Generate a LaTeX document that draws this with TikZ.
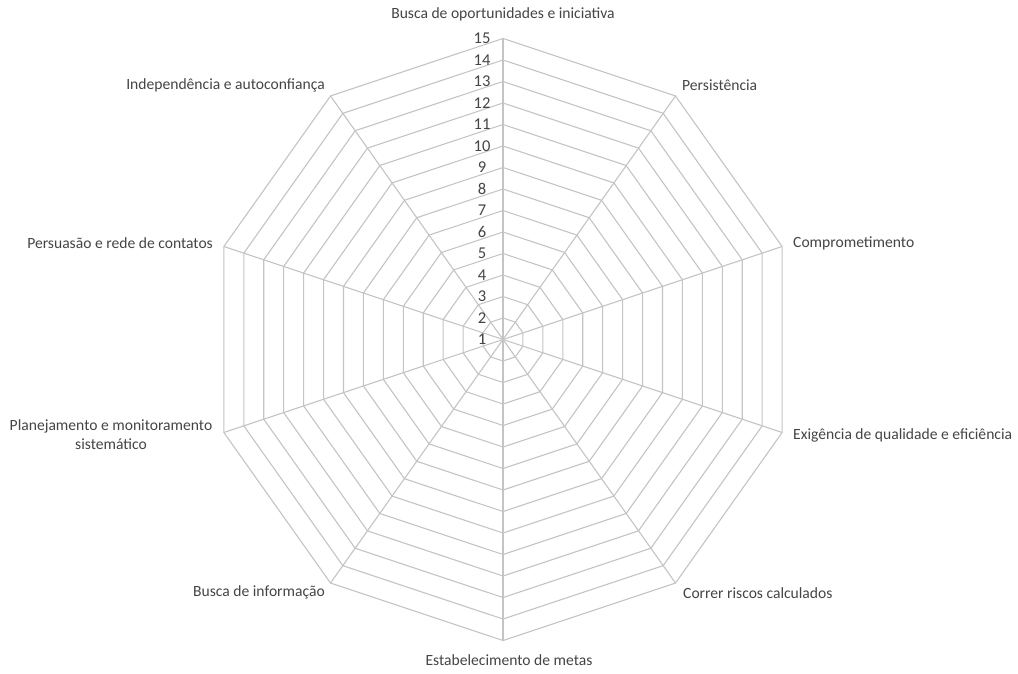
\documentclass[tikz,border=0pt]{standalone}
\usepackage{fontspec}
\setmainfont{Carlito}
\definecolor{gridgray}{HTML}{C4C4C4}
\definecolor{lblgray}{HTML}{454545}
\begin{document}
\begin{tikzpicture}[x=1pt,y=-1pt,
  grid/.style={draw=gridgray,line width=1.1pt,line join=miter},
  lbl/.style={text=lblgray,font=\fontsize{15.6}{19}\selectfont,inner sep=0pt},
  num/.style={text=lblgray,font=\fontsize{16.5}{19}\selectfont,inner sep=0pt}]
\useasboundingbox (0,0) rectangle (1018,674);
\fill[white] (0,0) rectangle (1018,674);
\coordinate (c) at (503,339.5);
\foreach \k in {1,...,14}{
  \pgfmathsetmacro{\r}{21.5*\k}
  \draw[grid] plot[samples at={90,126,...,414}] ({503+0.975*\r*cos(\x)},{339.5-\r*sin(\x)}) -- cycle;
}
\foreach \i in {0,...,9}{
  \pgfmathsetmacro{\a}{90-36*\i}
  \coordinate (v\i) at ({503+0.975*301*cos(\a)},{339.5-301*sin(\a)});
  \draw[grid] (c) -- (v\i);
}
\foreach \k in {1,...,15}{
  \node[num] (n\k) at (482,{339.5-(\k-1)*21.5}) {\k};
}
\node[lbl] (l0) at (503,14) {Busca de oportunidades e iniciativa};
\node[lbl,anchor=west] (l1) at (682,85) {Persistência};
\node[lbl,anchor=west] (l2) at (793,243) {Comprometimento};
\node[lbl,anchor=west] (l3) at (793,435) {Exigência de qualidade e eficiência};
\node[lbl,anchor=west] (l4) at (683,593) {Correr riscos calculados};
\node[lbl] (l5) at (509,660) {Estabelecimento de metas};
\node[lbl,anchor=east] (l6) at (325,592) {Busca de informação};
\node[lbl,align=center] (l7) at (111,435) {Planejamento e monitoramento\\sistemático};
\node[lbl,anchor=east] (l8) at (213,243) {Persuasão e rede de contatos};
\node[lbl,anchor=east] (l9) at (325,85) {Independência e autoconfiança};
\end{tikzpicture}
\end{document}
